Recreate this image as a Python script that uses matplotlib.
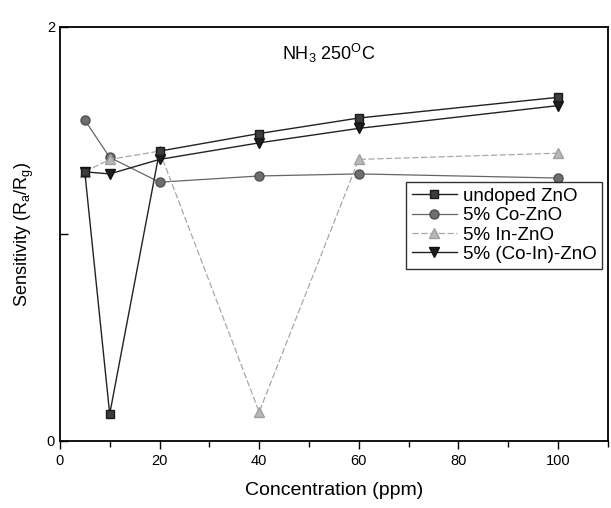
import numpy as np
import matplotlib
matplotlib.use("Agg")
import matplotlib.pyplot as plt
from matplotlib.ticker import MultipleLocator

plt.rcParams['font.family'] = ['Liberation Sans', 'DejaVu Sans']
plt.rcParams['mathtext.default'] = 'regular'

# NH3 sensing at 250 C
conc = [5, 10, 20, 40, 60, 100]
undoped = [1.30, 0.13, 1.40, 1.485, 1.56, 1.66]
co_zno = [1.55, 1.37, 1.25, 1.28, 1.29, 1.27]
in_zno = [1.30, 1.36, 1.40, 0.14, 1.36, 1.39]
coin_zno = [1.30, 1.29, 1.36, 1.44, 1.51, 1.62]

labels = ["undoped ZnO", "5% Co-ZnO", "5% In-ZnO", "5% (Co-In)-ZnO"]

fig = plt.figure(figsize=(6.11, 5.08), dpi=100)
ax = fig.add_axes([0.098, 0.132, 0.897, 0.815])

h_und, = ax.plot(conc, undoped, '-', color='#222222', lw=1.0, marker='s', ms=6,
                 mfc='#3c3c3c', mec='#1a1a1a', zorder=5)
h_co, = ax.plot(conc, co_zno, '-', color='#666666', lw=0.9, marker='o', ms=6.5,
                mfc='#6e6e6e', mec='#505050', zorder=2)
h_in, = ax.plot(conc, in_zno, '--', color='#a8a8a8', lw=0.9, dashes=(5, 2), marker='^', ms=7.5,
                mfc='#b8b8b8', mec='#a0a0a0', zorder=3)
h_coin, = ax.plot(conc, coin_zno, '-', color='#222222', lw=1.0, marker='v', ms=7.5,
                  mfc='#1e1e1e', mec='#111111', zorder=4)

ax.set_xlim(0, 110)
ax.set_ylim(0, 2)
ax.xaxis.set_major_locator(MultipleLocator(20))
ax.xaxis.set_minor_locator(MultipleLocator(10))
ax.set_yticks([0, 1, 2])
ax.set_yticklabels(["0", "", "2"])
ax.tick_params(axis='x', which='major', direction='out', length=6, width=1, labelsize=10.5, top=False)
ax.tick_params(axis='x', which='minor', direction='out', length=4, width=1, top=False)
ax.tick_params(axis='y', direction='in', length=6, width=1, labelsize=10.5, right=False)
for s in ax.spines.values():
    s.set_linewidth(1.3)

ax.set_xlabel("Concentration (ppm)", fontsize=14, labelpad=10)
ax.set_ylabel("Sensitivity (R$_a$/R$_g$)", fontsize=13, labelpad=8)

ax.text(0.49, 0.935, "NH$_3$ 250$^O$C", transform=ax.transAxes, ha='center', va='center', fontsize=13)

leg = ax.legend([h_und, h_co, h_in, h_coin], labels, loc='upper right',
                bbox_to_anchor=(0.99, 0.625), fontsize=13.5, frameon=True, fancybox=False,
                edgecolor='black', handlelength=2.4, handletextpad=0.35, borderpad=0.3,
                labelspacing=0.12, borderaxespad=0.0)
leg.get_frame().set_linewidth(1.0)

fig.savefig("out.png", dpi=100)
